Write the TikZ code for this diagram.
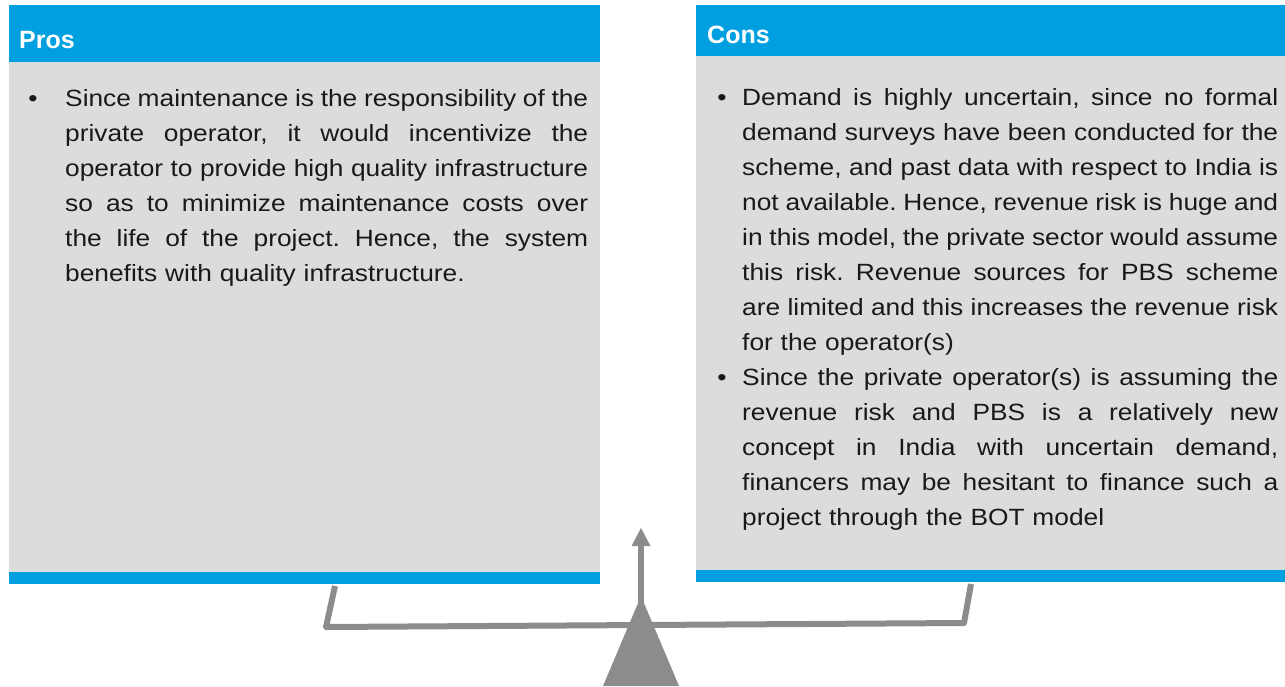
\documentclass[tikz,border=0pt]{standalone}
\usepackage{fontspec}
\setmainfont{Liberation Sans}
\newfontfamily\bodyf[FakeStretch=1.12]{Liberation Sans}
\definecolor{hdrblue}{RGB}{0,160,224}
\definecolor{panelgray}{RGB}{220,220,220}
\definecolor{scalegray}{RGB}{140,140,140}
\definecolor{txt}{RGB}{25,25,25}
\def\curw{500pt}
\newcommand{\bodysetup}{\bodyf\fontsize{23.5}{35}\selectfont\frenchspacing}
\def\jwords#1 #2\jend{#1\ifx\relax#2\relax\else\hfill\jwords#2\jend\fi}
\newcommand{\jline}[1]{\noindent\hbox to \curw{\jwords#1 \jend}\par}
\newcommand{\lastln}[1]{\noindent\hbox{#1}\par}
\tikzset{
  panelbox/.style={fill=panelgray, draw=none},
  hdrbox/.style={fill=hdrblue, draw=none},
  hdrtext/.style={anchor=base west, inner sep=0pt, text=white, font=\fontsize{25}{28}\selectfont\bfseries},
  bodytext/.style={anchor=base west, inner sep=0pt, text=txt, font=\bodysetup},
  bul/.style={anchor=base, inner sep=0pt, text=txt, font=\bodysetup},
  beam/.style={draw=scalegray, line width=6pt, line join=round},
}
\begin{document}
\begin{tikzpicture}[x=1pt, y=-1pt]
\useasboundingbox (0,0) rectangle (1285,686);
% scale
\coordinate (lh) at (335,586);
\coordinate (lb) at (326,627);
\coordinate (rb) at (964,623);
\coordinate (rh) at (971,584);
\draw[beam] (lh) -- (lb) -- (rb) -- (rh);
\coordinate (ptop) at (641,545);
\coordinate (pbot) at (641,612);
\draw[draw=scalegray, line width=6pt] (pbot) -- (ptop);
\fill[scalegray] (631.5,546) -- (641,528) -- (650.5,546) -- cycle;
\fill[scalegray] (641,596) -- (679,686) -- (603,686) -- cycle;
% Pros panel
\fill[panelbox] (9,62) rectangle (600,572);
\fill[hdrbox] (9,5) rectangle (600,62);
\fill[hdrbox] (9,572) rectangle (600,584);
\node[hdrtext] (pros) at (19,48) {Pros};
\node[bul] (pb1) at (33,106) {•};
\node[bodytext, text width=523pt] (prostext) at (65,106) {\def\curw{523pt}%
\jline{Since maintenance is the responsibility of the}
\jline{private operator, it would incentivize the}
\jline{operator to provide high quality infrastructure}
\jline{so as to minimize maintenance costs over}
\jline{the life of the project. Hence, the system}
\lastln{benefits with quality infrastructure.}};
% Cons panel
\fill[panelbox] (696,56) rectangle (1285,570);
\fill[hdrbox] (696,5) rectangle (1285,56);
\fill[hdrbox] (696,570) rectangle (1285,582);
\node[hdrtext] (cons) at (707,43) {Cons};
\node[bul] (cb1) at (722,105) {•};
\node[bodytext, text width=536pt] (constext) at (742,105) {\def\curw{536pt}%
\jline{Demand is highly uncertain, since no formal}
\jline{demand surveys have been conducted for the}
\jline{scheme, and past data with respect to India is}
\jline{not available. Hence, revenue risk is huge and}
\jline{in this model, the private sector would assume}
\jline{this risk. Revenue sources for PBS scheme}
\jline{are limited and this increases the revenue risk}
\lastln{for the operator(s)}
\jline{Since the private operator(s) is assuming the}
\jline{revenue risk and PBS is a relatively new}
\jline{concept in India with uncertain demand,}
\jline{financers may be hesitant to finance such a}
\lastln{project through the BOT model}};
\node[bul] (cb2) at (722,385) {•};
\end{tikzpicture}
\end{document}
